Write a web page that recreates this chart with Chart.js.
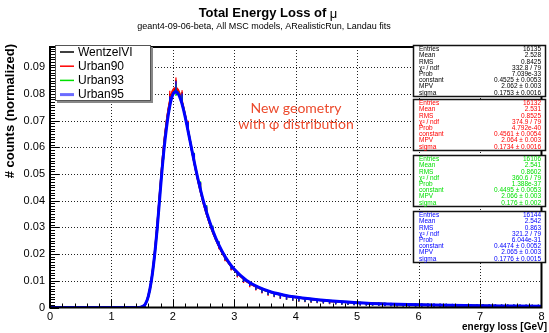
<!DOCTYPE html>
<html>
<head>
<meta charset="utf-8">
<script src="https://cdn.jsdelivr.net/npm/chart.js@4.4.0/dist/chart.umd.min.js"></script>
<style>
  html, body { margin: 0; padding: 0; background: #fff; }
  #wrap { width: 549px; height: 333px; }
</style>
</head>
<body>
<div id="wrap"><canvas id="grafico" width="549" height="333"></canvas></div>
<script>
// eixos
const xTicks = [0, 1, 2, 3, 4, 5, 6, 7, 8];
const yTicks = [0, 0.01, 0.02, 0.03, 0.04, 0.05, 0.06, 0.07, 0.08, 0.09];
const yMax = 0.0976;

const labels = ["WentzelVI", "Urban90", "Urban93", "Urban95"];
const cores = ["#000000", "#ff0000", "#00e000", "#0000ff"];

// curvas de ajuste (Landau)
const fitX = [0, 1.45, 1.5, 1.55, 1.6, 1.65, 1.7, 1.75, 1.8, 1.85, 1.9, 1.95, 2.0, 2.05, 2.1, 2.15, 2.2, 2.25, 2.3, 2.35,
  2.4, 2.5, 2.6, 2.7, 2.8, 2.9, 3.0, 3.2, 3.4, 3.6, 3.8, 4.0, 4.5, 5.0, 5.5, 6.0, 6.5, 7.0, 7.5, 8.0];
const fitWentzel = [0, 0, 0.0003, 0.0012, 0.0043, 0.0103, 0.0196, 0.032, 0.0465, 0.0598, 0.0698, 0.0768, 0.0808, 0.0817, 0.0802, 0.0766, 0.0716, 0.0658, 0.0598, 0.054,
  0.0486, 0.0391, 0.0315, 0.0255, 0.0208, 0.017, 0.0141, 0.0099, 0.0074, 0.0057, 0.0046, 0.0038, 0.0025, 0.0018, 0.0013, 0.001, 0.0008, 0.00064, 0.00054, 0.00045];
const fitUrban90 = [0, 0, 0.0003, 0.0011, 0.0041, 0.01, 0.0192, 0.0317, 0.0462, 0.0598, 0.07, 0.0773, 0.0814, 0.0823, 0.0808, 0.0772, 0.072, 0.0661, 0.06, 0.0541,
  0.0486, 0.039, 0.0314, 0.0254, 0.0206, 0.0169, 0.014, 0.0098, 0.0073, 0.0057, 0.0046, 0.0038, 0.0025, 0.0018, 0.0013, 0.001, 0.0008, 0.00064, 0.00053, 0.00044];
const fitUrban93 = [0, 0, 0.0003, 0.0011, 0.004, 0.0098, 0.0187, 0.0308, 0.045, 0.0582, 0.0684, 0.0757, 0.08, 0.0811, 0.0799, 0.0766, 0.0718, 0.0661, 0.0602, 0.0545,
  0.0491, 0.0396, 0.0319, 0.0258, 0.021, 0.0172, 0.0142, 0.01, 0.0075, 0.0058, 0.0047, 0.0039, 0.0026, 0.0018, 0.0013, 0.001, 0.0008, 0.00065, 0.00055, 0.00045];
const fitUrban95 = [0, 0, 0.0003, 0.0012, 0.0042, 0.01, 0.019, 0.031, 0.045, 0.058, 0.068, 0.0755, 0.0798, 0.0808, 0.0795, 0.0762, 0.0714, 0.0658, 0.06, 0.0543,
  0.049, 0.0396, 0.032, 0.0259, 0.0211, 0.0173, 0.0143, 0.0101, 0.0075, 0.0058, 0.0047, 0.0039, 0.0026, 0.0018, 0.0013, 0.001, 0.0008, 0.00065, 0.00055, 0.00045];

// histogramas (centro dos bins)
const histX = [1.55, 1.65, 1.75, 1.85, 1.95, 2.05, 2.15, 2.25, 2.35, 2.45, 2.55, 2.65, 2.75, 2.85, 2.95, 3.05, 3.15, 3.25, 3.35, 3.45,
  3.55, 3.65, 3.75, 3.85, 3.95, 4.05, 4.15, 4.25, 4.35, 4.45, 4.55, 4.65, 4.75, 4.85, 4.95, 5.05, 5.15, 5.25, 5.35, 5.45,
  5.55, 5.65, 5.75, 5.85, 5.95, 6.05, 6.15, 6.25, 6.35, 6.45, 6.55, 6.65, 6.75, 6.85, 6.95, 7.05, 7.15, 7.25, 7.35, 7.45,
  7.55, 7.65, 7.75, 7.85, 7.95];
const histWentzel = [0.0009, 0.01, 0.031, 0.059, 0.078, 0.083, 0.0785, 0.0672, 0.0553, 0.045, 0.0362, 0.0288, 0.0232, 0.0185, 0.015, 0.0124, 0.0103, 0.0086, 0.0073, 0.0062,
  0.0053, 0.0046, 0.004, 0.0036, 0.0032, 0.0029, 0.0027, 0.0025, 0.0023, 0.0021, 0.002, 0.0019, 0.0017, 0.0016, 0.0015, 0.0014, 0.0014, 0.0013, 0.0012, 0.0012,
  0.0011, 0.0011, 0.001, 0.001, 0.0009, 0.0009, 0.0009, 0.0008, 0.0008, 0.0008, 0.0007, 0.0007, 0.0007, 0.0006, 0.0006, 0.0006, 0.0006, 0.0005, 0.0005, 0.0005,
  0.0005, 0.0004, 0.0004, 0.0004, 0.0004];
const histUrban90 = [0.0007, 0.0098, 0.0305, 0.0598, 0.079, 0.0838, 0.0792, 0.068, 0.0558, 0.0452, 0.036, 0.0286, 0.0229, 0.0183, 0.0148, 0.0121, 0.01, 0.0084, 0.0071, 0.006,
  0.0051, 0.0045, 0.0039, 0.0035, 0.0031, 0.0028, 0.0026, 0.0024, 0.0022, 0.0021, 0.0019, 0.0018, 0.0017, 0.0016, 0.0015, 0.0014, 0.0013, 0.0012, 0.0012, 0.0011,
  0.0011, 0.001, 0.001, 0.0009, 0.0009, 0.0009, 0.0008, 0.0008, 0.0008, 0.0007, 0.0007, 0.0007, 0.0006, 0.0006, 0.0006, 0.0006, 0.0005, 0.0005, 0.0005, 0.0005,
  0.0004, 0.0004, 0.0004, 0.0004, 0.0004];
const histUrban93 = [0.0006, 0.009, 0.0292, 0.057, 0.0762, 0.0815, 0.0772, 0.0672, 0.0562, 0.0458, 0.037, 0.0295, 0.0238, 0.019, 0.0154, 0.0127, 0.0105, 0.0088, 0.0075, 0.0064,
  0.0055, 0.0048, 0.0042, 0.0037, 0.0033, 0.003, 0.0028, 0.0026, 0.0024, 0.0022, 0.0021, 0.0019, 0.0018, 0.0017, 0.0016, 0.0015, 0.0014, 0.0013, 0.0013, 0.0012,
  0.0011, 0.0011, 0.001, 0.001, 0.0009, 0.0009, 0.0009, 0.0008, 0.0008, 0.0008, 0.0007, 0.0007, 0.0007, 0.0006, 0.0006, 0.0006, 0.0006, 0.0005, 0.0005, 0.0005,
  0.0005, 0.0004, 0.0004, 0.0004, 0.0004];
const histUrban95 = [0.0008, 0.0095, 0.03, 0.0575, 0.077, 0.0825, 0.078, 0.0675, 0.056, 0.0455, 0.0368, 0.0292, 0.0236, 0.0188, 0.0152, 0.0126, 0.0104, 0.0088, 0.0074, 0.0063,
  0.0054, 0.0047, 0.0041, 0.0037, 0.0033, 0.003, 0.0028, 0.0026, 0.0024, 0.0022, 0.0021, 0.0019, 0.0018, 0.0017, 0.0016, 0.0015, 0.0014, 0.0014, 0.0013, 0.0012,
  0.0012, 0.0011, 0.0011, 0.001, 0.001, 0.0009, 0.0009, 0.0009, 0.0008, 0.0008, 0.0008, 0.0007, 0.0007, 0.0007, 0.0006, 0.0006, 0.0006, 0.0006, 0.0005, 0.0005,
  0.0005, 0.0005, 0.0004, 0.0004, 0.0004];

// caixas de estatística
const statNomes = ["Entries", "Mean", "RMS", "\u03c7\u00b2 / ndf", "Prob", "constant", "MPV", "sigma"];
const statsWentzel = ["16135", "2.528", "0.8425", "332.8 / 79", "7.039e-33", "0.4525 \u00b1 0.0053", "2.062 \u00b1 0.003", "0.1753 \u00b1 0.0016"];
const statsUrban90 = ["16132", "2.531", "0.8525", "374.9 / 79", "4.792e-40", "0.4561 \u00b1 0.0054", "2.064 \u00b1 0.003", "0.1734 \u00b1 0.0016"];
const statsUrban93 = ["16106", "2.541", "0.8602", "360.6 / 79", "1.388e-37", "0.4495 \u00b1 0.0053", "2.066 \u00b1 0.003", "0.176 \u00b1 0.002"];
const statsUrban95 = ["16144", "2.542", "0.863", "321.2 / 79", "6.044e-31", "0.4474 \u00b1 0.0052", "2.065 \u00b1 0.003", "0.1776 \u00b1 0.0015"];

const fits = [fitWentzel, fitUrban90, fitUrban93, fitUrban95];
const hists = [histWentzel, histUrban90, histUrban93, histUrban95];
const stats = [statsWentzel, statsUrban90, statsUrban93, statsUrban95];

const FONTE = '"Liberation Sans", Arial, sans-serif';

function linha(ctx, x1, y1, x2, y2) {
  ctx.beginPath(); ctx.moveTo(x1, y1); ctx.lineTo(x2, y2); ctx.stroke();
}

const estiloRoot = {
  id: "estiloRoot",
  beforeDatasetsDraw(chart) {
    const { ctx, chartArea: a, scales: { x, y } } = chart;
    ctx.save();
    ctx.strokeStyle = "#222"; ctx.lineWidth = 1; ctx.setLineDash([1, 2]);
    xTicks.slice(1, -1).forEach(v => { const px = Math.round(x.getPixelForValue(v)) + 0.5; linha(ctx, px, a.top, px, a.bottom); });
    yTicks.slice(1).forEach(v => { const py = Math.round(y.getPixelForValue(v)) + 0.5; linha(ctx, a.left, py, a.right, py); });
    ctx.restore();
  },
  afterDatasetsDraw(chart) {
    const { ctx, chartArea: a, scales: { x, y } } = chart;
    ctx.save();
    // marcas dos eixos
    ctx.strokeStyle = "#000"; ctx.lineWidth = 1;
    for (let i = 0; i <= 97; i++) {
      const py = Math.round(y.getPixelForValue(i / 1000)) + 0.5;
      linha(ctx, a.left, py, a.left + (i % 10 === 0 ? 9 : 5), py);
    }
    for (let i = 0; i <= 40; i++) {
      const px = Math.round(x.getPixelForValue(i / 5)) + 0.5;
      linha(ctx, px, a.bottom, px, a.bottom - (i % 5 === 0 ? 8 : 4));
    }
    ctx.lineWidth = 2;
    ctx.strokeRect(a.left, a.top, a.right - a.left, a.bottom - a.top);

    // legenda
    const lx = 55, ly = 45, lw = 96, lh = 56;
    ctx.fillStyle = "#888"; ctx.fillRect(lx + 2, ly + 2, lw, lh);
    ctx.fillStyle = "#fff"; ctx.fillRect(lx, ly, lw, lh);
    ctx.strokeStyle = "#555"; ctx.lineWidth = 1; ctx.strokeRect(lx + 0.5, ly + 0.5, lw - 1, lh - 1);
    ctx.font = "12px " + FONTE; ctx.textBaseline = "middle"; ctx.textAlign = "left";
    labels.forEach((t, i) => {
      const yy = ly + 7 + i * 14.2;
      ctx.strokeStyle = i === 3 ? "#6b6bff" : cores[i]; ctx.lineWidth = i === 3 ? 3 : 1.5;
      linha(ctx, lx + 5, yy, lx + 19, yy);
      ctx.fillStyle = "#000"; ctx.fillText(t, lx + 23, yy + 0.5);
    });

    // caixas de estatística
    const caixas = [45, 99, 155, 211];
    ctx.font = "6.5px " + FONTE;
    stats.forEach((vals, k) => {
      const bx = 413, by = caixas[k], bw = 133, bh = 52;
      ctx.fillStyle = "#fff"; ctx.fillRect(bx, by, bw, bh);
      ctx.strokeStyle = "#111"; ctx.lineWidth = 1.5; ctx.strokeRect(bx + 0.5, by + 0.5, bw - 1, bh - 1);
      ctx.fillStyle = cores[k];
      statNomes.forEach((n, i) => {
        const yy = by + 4.5 + i * 6.2;
        ctx.textAlign = "left"; ctx.fillText(n, bx + 6, yy);
        ctx.textAlign = "right"; ctx.fillText(vals[i], bx + bw - 5, yy);
      });
    });

    // anotação
    ctx.fillStyle = "#ec4a2c"; ctx.textAlign = "center";
    ctx.font = "14px Lato, " + FONTE;
    ctx.fillText("New geometry", 296, 108);
    ctx.fillText("with \u03c6 distribution", 296, 124);
    ctx.restore();
  },
  afterDraw(chart) {
    const { ctx } = chart;
    ctx.save();
    ctx.fillStyle = "#000"; ctx.textBaseline = "middle";
    // título
    const t1 = "Total Energy Loss of ", t2 = "\u03bc";
    ctx.font = "bold 13px " + FONTE; const w1 = ctx.measureText(t1).width;
    ctx.font = "13px " + FONTE; const w2 = ctx.measureText(t2).width;
    const x0 = 268 - (w1 + w2) / 2;
    ctx.textAlign = "left";
    ctx.font = "bold 13px " + FONTE; ctx.fillText(t1, x0, 13);
    ctx.font = "13px " + FONTE; ctx.fillText(t2, x0 + w1, 14);
    ctx.textAlign = "center"; ctx.font = "9px " + FONTE;
    ctx.fillText("geant4-09-06-beta, All MSC models, ARealisticRun, Landau fits", 264, 27);
    // títulos dos eixos
    ctx.font = "bold 10px " + FONTE; ctx.textAlign = "right";
    ctx.fillText("energy loss [GeV]", 547, 327);
    ctx.translate(10, 44); ctx.rotate(-Math.PI / 2);
    ctx.font = "bold 13px " + FONTE; ctx.textAlign = "right";
    ctx.fillText("# counts (normalized)", 0, 0);
    ctx.restore();
  }
};

const datasets = [];
labels.forEach((nome, i) => {
  datasets.push({
    label: nome + " fit",
    data: fitX.map((v, k) => ({ x: v, y: fits[i][k] })),
    showLine: true,
    borderColor: cores[i],
    borderWidth: i === 3 ? 3 : 2,
    pointRadius: 0,
    cubicInterpolationMode: "monotone",
    order: 2 * (3 - i)
  });
  datasets.push({
    label: nome,
    data: histX.map((v, k) => ({ x: v, y: hists[i][k] })),
    showLine: false,
    pointStyle: "line",
    pointRotation: 90,
    pointRadius: c => 1.6 + 55 * (c.raw ? c.raw.y : 0),
    pointBorderColor: cores[i],
    pointBorderWidth: 1.3,
    borderColor: cores[i],
    order: 2 * (3 - i) + 1
  });
});

new Chart(document.getElementById("grafico"), {
  type: "scatter",
  data: { datasets },
  options: {
    responsive: false,
    animation: false,
    devicePixelRatio: 1,
    layout: { padding: { top: 47, right: 3, bottom: 0, left: 0 } },
    plugins: { legend: { display: false }, tooltip: { enabled: false }, title: { display: false } },
    scales: {
      x: {
        type: "linear", min: 0, max: 8,
        grid: { display: false, drawTicks: false },
        border: { display: false },
        ticks: { font: { size: 11, family: FONTE }, color: "#000", padding: 3, maxRotation: 0 },
        afterBuildTicks: s => { s.ticks = xTicks.map(v => ({ value: v })); },
        afterFit: s => { s.height = 25.5; }
      },
      y: {
        type: "linear", min: 0, max: yMax,
        grid: { display: false, drawTicks: false },
        border: { display: false },
        ticks: { font: { size: 11, family: FONTE }, color: "#000", padding: 5,
          callback: v => v === 0 ? "0" : v.toFixed(2) },
        afterBuildTicks: s => { s.ticks = yTicks.map(v => ({ value: v })); },
        afterFit: s => { s.width = 50; }
      }
    }
  },
  plugins: [estiloRoot]
});
</script>
</body>
</html>
